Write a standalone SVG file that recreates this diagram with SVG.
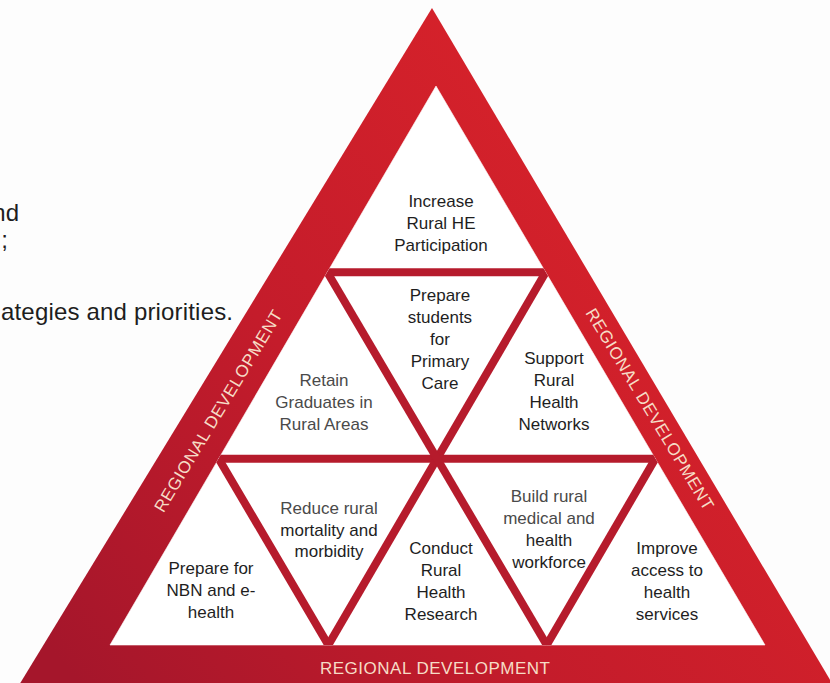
<svg xmlns="http://www.w3.org/2000/svg" width="830" height="683" viewBox="0 0 830 683">
  <defs>
    <linearGradient id="band" gradientUnits="userSpaceOnUse" x1="60" y1="660" x2="700" y2="150">
      <stop offset="0" stop-color="#a5162b"/>
      <stop offset="0.45" stop-color="#c41c2b"/>
      <stop offset="1" stop-color="#da232a"/>
    </linearGradient>
    <clipPath id="inner">
      <polygon points="436,86 110,645 765,645"/>
    </clipPath>
    <style>
      .cell { fill: #ffffff; stroke: #ffffff; stroke-width: 0.6; }
      .lbl { font-family: "Liberation Sans", Arial, sans-serif; font-size: 17px; fill: #1e1e1e; text-anchor: middle; }
      .soft { fill: #4a4a4a; }
      .band-txt { font-family: "Liberation Sans", Arial, sans-serif; font-size: 17px; fill: #f6dcc6; text-anchor: middle; }
      .page { font-family: "Liberation Sans", Arial, sans-serif; font-size: 24px; fill: #1e1e1e; }
      .grid line { stroke: #b61b2c; stroke-width: 8; }
    </style>
  </defs>

  <!-- page background -->
  <rect width="830" height="683" fill="#fdfdfd"/>

  <!-- fragments of the surrounding page text -->
  <g id="page-text">
    <text class="page" x="19" y="221" text-anchor="end">nd</text>
    <text class="page" x="8" y="248" text-anchor="end">;</text>
    <text class="page" x="1" y="320" textLength="232" lengthAdjust="spacing">ategies and priorities.</text>
  </g>

  <!-- outer regional development band -->
  <polygon id="band" points="432,8 16,690 836,690" fill="url(#band)"/>

  <!-- inner cells -->
  <g id="n-increase">
    <polygon class="cell" points="436,86 327.3,272.3 545.7,272.3"/>
    <text class="lbl"><tspan x="441" y="207">Increase</tspan><tspan x="441" y="229">Rural HE</tspan><tspan x="441" y="251">Participation</tspan></text>
  </g>
  <g id="n-retain">
    <polygon class="cell" points="327.3,272.3 218.7,458.7 437,458.7"/>
    <text class="lbl soft"><tspan x="324" y="386">Retain</tspan><tspan x="324" y="408">Graduates in</tspan><tspan x="324" y="430">Rural Areas</tspan></text>
  </g>
  <g id="n-primary-care">
    <polygon class="cell" points="327.3,272.3 545.7,272.3 437,458.7"/>
    <text class="lbl"><tspan x="440" y="301">Prepare</tspan><tspan x="440" y="323">students</tspan><tspan x="440" y="345">for</tspan><tspan x="440" y="367">Primary</tspan><tspan x="440" y="389">Care</tspan></text>
  </g>
  <g id="n-networks">
    <polygon class="cell" points="545.7,272.3 437,458.7 655.3,458.7"/>
    <text class="lbl"><tspan x="554" y="364">Support</tspan><tspan x="554" y="386">Rural</tspan><tspan x="554" y="408">Health</tspan><tspan x="554" y="430">Networks</tspan></text>
  </g>
  <g id="n-ehealth">
    <polygon class="cell" points="218.7,458.7 110,645 328.3,645"/>
    <text class="lbl"><tspan x="211" y="573.5">Prepare for</tspan><tspan x="211" y="596">NBN and e-</tspan><tspan x="211" y="618">health</tspan></text>
  </g>
  <g id="n-mortality">
    <polygon class="cell" points="218.7,458.7 437,458.7 328.3,645"/>
    <text class="lbl"><tspan class="soft" x="329" y="514">Reduce rural</tspan><tspan x="329" y="535.5">mortality and</tspan><tspan x="329" y="557">morbidity</tspan></text>
  </g>
  <g id="n-research">
    <polygon class="cell" points="437,458.7 328.3,645 546.7,645"/>
    <text class="lbl"><tspan x="441" y="553.5">Conduct</tspan><tspan x="441" y="576">Rural</tspan><tspan x="441" y="598">Health</tspan><tspan x="441" y="620">Research</tspan></text>
  </g>
  <g id="n-workforce">
    <polygon class="cell" points="437,458.7 655.3,458.7 546.7,645"/>
    <text class="lbl"><tspan class="soft" x="549" y="501.5">Build rural</tspan><tspan class="soft" x="549" y="523.5">medical and</tspan><tspan x="549" y="546">health</tspan><tspan x="549" y="567.5">workforce</tspan></text>
  </g>
  <g id="n-access">
    <polygon class="cell" points="655.3,458.7 546.7,645 765,645"/>
    <text class="lbl"><tspan x="667" y="554">Improve</tspan><tspan x="667" y="576">access to</tspan><tspan x="667" y="598">health</tspan><tspan x="667" y="620">services</tspan></text>
  </g>

  <!-- dividing lines between cells -->
  <g id="connectors" class="grid" clip-path="url(#inner)">
    <line x1="300" y1="272.3" x2="580" y2="272.3"/>
    <line x1="190" y1="458.7" x2="690" y2="458.7"/>
    <line x1="322.5" y1="655" x2="557.5" y2="252"/>
    <line x1="540.9" y1="655" x2="667.4" y2="438"/>
    <line x1="552.6" y1="655" x2="315.4" y2="252"/>
    <line x1="334.2" y1="655" x2="206.5" y2="438"/>
  </g>

  <!-- band captions -->
  <g id="band-labels">
    <text class="band-txt" transform="translate(218 411) rotate(-59)" x="0" y="6" textLength="232" lengthAdjust="spacing">REGIONAL DEVELOPMENT</text>
    <text class="band-txt" transform="translate(650 409) rotate(59)" x="0" y="6" textLength="232" lengthAdjust="spacing">REGIONAL DEVELOPMENT</text>
    <text class="band-txt" x="435" y="674" textLength="230" lengthAdjust="spacing">REGIONAL DEVELOPMENT</text>
  </g>
</svg>
